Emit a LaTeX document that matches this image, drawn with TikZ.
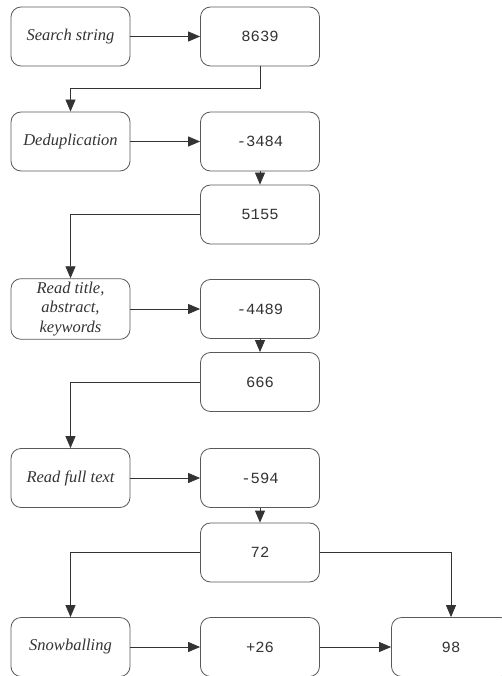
\documentclass[tikz,border=0pt]{standalone}
\usepackage{fontspec}
\setmainfont{Liberation Serif}
\setmonofont{Liberation Mono}
\usepackage{tikz}
\usetikzlibrary{arrows.meta}

\tikzset{
  stepbox/.style={draw=black!65, line width=0.8pt, rounded corners=10pt,
    minimum width=119pt, minimum height=59pt, align=center, text=black!80},
  labelbox/.style={stepbox, font=\fontsize{16.5}{19.5}\selectfont\itshape},
  countbox/.style={stepbox, font=\fontsize{15.5}{18}\selectfont\ttfamily},
  flow/.style={draw=black!80, line width=0.8pt, -{Triangle[length=12pt,width=10pt]}}
}

\begin{document}
\begin{tikzpicture}[x=1pt, y=-1pt]
            \useasboundingbox (0,0) rectangle (501,676);

            % Drawing the steps
            \node[labelbox] (search) at (70.5,36.5) {Search string};
            \node[labelbox] (dedup) at (70.5,141.5) {Deduplication};
            \node[labelbox] (title) at (70.5,309) {Read title,\\abstract,\\keywords};
            \node[labelbox] (full) at (70.5,478) {Read full text};
            \node[labelbox] (snow) at (70.5,647) {Snowballing};

            % Drawing the counts
            \node[countbox] (n8639) at (260,36.5) {8639};
            \node[countbox] (n3484) at (260,141.5) {-3484};
            \node[countbox] (n5155) at (260,214.5) {5155};
            \node[countbox] (n4489) at (260,309) {-4489};
            \node[countbox] (n666) at (260,382) {666};
            \node[countbox] (n594) at (260,478) {-594};
            \node[countbox] (n72) at (260,552.5) {72};
            \node[countbox] (n26) at (260,647) {+26};
            \node[countbox] (n98) at (451,647) {98};

            % Drawing the arrows
            \draw[flow] (search) -- (n8639);
            \draw[flow] (n8639.south) |- (70.5,88) -- (dedup.north);
            \draw[flow] (dedup) -- (n3484);
            \draw[flow] (n3484) -- (n5155);
            \draw[flow] (n5155.west) -| (title.north);
            \draw[flow] (title) -- (n4489);
            \draw[flow] (n4489) -- (n666);
            \draw[flow] (n666.west) -| (full.north);
            \draw[flow] (full) -- (n594);
            \draw[flow] (n594) -- (n72);
            \draw[flow] (n72.west) -| (snow.north);
            \draw[flow] (n72.east) -| (n98.north);
            \draw[flow] (snow) -- (n26);
            \draw[flow] (n26) -- (n98);
        \end{tikzpicture}
\end{document}
